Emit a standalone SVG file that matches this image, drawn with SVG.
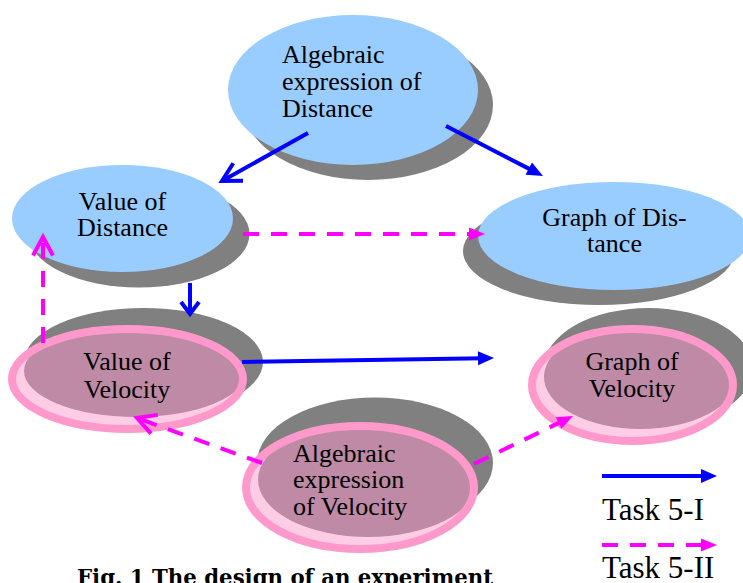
<svg xmlns="http://www.w3.org/2000/svg" width="743" height="583" viewBox="0 0 743 583">
<style>
.shadow{fill:#808080}
.blue{fill:#99CCFF}
.lp{fill:#FFCCE6}
.mauve{fill:#BF8AA5}
.ring{fill:none;stroke:#FF99CC;stroke-width:8}
.lbl{font-family:"Liberation Serif","Times New Roman",serif;font-size:26px;fill:#000}
.mid{text-anchor:middle}
.leg{font-family:"Liberation Serif","Times New Roman",serif;font-size:31px;fill:#000}
.cap{font-family:"DejaVu Serif","Liberation Serif",serif;font-size:23px;font-weight:bold;fill:#000}
.sb{fill:none;stroke:#0000FF;stroke-width:4}
.sm{fill:none;stroke:#FF00FF;stroke-width:4;stroke-dasharray:16 12}
</style>
<defs>
<marker id="triB" markerUnits="userSpaceOnUse" markerWidth="16" markerHeight="14" refX="6" refY="7" orient="auto" overflow="visible">
<path d="M0,0 L16,7 L0,14 Z" fill="#0000FF"/>
</marker>
<marker id="triM" markerUnits="userSpaceOnUse" markerWidth="16" markerHeight="14" refX="6" refY="7" orient="auto" overflow="visible">
<path d="M0,0.5 L16,7 L0,13.5 Z" fill="#FF00FF"/>
</marker>
<marker id="chevB" markerUnits="userSpaceOnUse" markerWidth="22" markerHeight="24" refX="18.5" refY="10" orient="auto" overflow="visible">
<path d="M0,0 L18.5,10 L0,20" fill="none" stroke="#0000FF" stroke-width="4"/>
</marker>
<marker id="chevBs" markerUnits="userSpaceOnUse" markerWidth="16" markerHeight="20" refX="12" refY="9" orient="auto" overflow="visible">
<path d="M0,0 L12,9 L0,18" fill="none" stroke="#0000FF" stroke-width="4"/>
</marker>
<marker id="chevM" markerUnits="userSpaceOnUse" markerWidth="22" markerHeight="24" refX="18.5" refY="10" orient="auto" overflow="visible">
<path d="M0,0 L18.5,10 L0,20" fill="none" stroke="#FF00FF" stroke-width="4"/>
</marker>
<clipPath id="cVV"><ellipse cx="127.5" cy="379" rx="115.5" ry="50"/></clipPath>
<clipPath id="cGV"><ellipse cx="632.5" cy="385" rx="100.5" ry="56"/></clipPath>
<clipPath id="cAV"><ellipse cx="360" cy="487.5" rx="114" ry="61.5"/></clipPath>
</defs>

<g id="node-alg-distance">
<ellipse class="shadow" cx="368" cy="105" rx="125" ry="75"/>
<ellipse class="blue" cx="353" cy="90" rx="125" ry="75"/>
<text class="lbl" x="282" y="63">Algebraic</text>
<text class="lbl" x="282" y="90">expression of</text>
<text class="lbl" x="282" y="117">Distance</text>
</g>

<g id="node-value-distance">
<ellipse class="shadow" cx="139" cy="234" rx="110.5" ry="53.5"/>
<ellipse class="blue" cx="122.5" cy="218.5" rx="110.5" ry="53.5"/>
<text class="lbl mid" x="122.5" y="210">Value of</text>
<text class="lbl mid" x="122.5" y="236">Distance</text>
</g>

<g id="node-graph-distance">
<ellipse class="shadow" cx="599" cy="251" rx="136" ry="54"/>
<ellipse class="blue" cx="614" cy="236" rx="136" ry="54"/>
<text class="lbl mid" x="614.5" y="226">Graph of Dis-</text>
<text class="lbl mid" x="614.5" y="252">tance</text>
</g>

<g id="node-value-velocity">
<ellipse class="shadow" cx="143.5" cy="362" rx="119.5" ry="54"/>
<ellipse class="lp" cx="127.5" cy="379" rx="115.5" ry="50"/>
<ellipse class="mauve" cx="135.5" cy="371" rx="111.5" ry="46" clip-path="url(#cVV)"/>
<ellipse class="ring" cx="127.5" cy="379" rx="115.5" ry="50"/>
<text class="lbl mid" x="127" y="370">Value of</text>
<text class="lbl mid" x="127" y="398">Velocity</text>
</g>

<g id="node-graph-velocity">
<ellipse class="shadow" cx="648.5" cy="368" rx="104.5" ry="60"/>
<ellipse class="lp" cx="632.5" cy="385" rx="100.5" ry="56"/>
<ellipse class="mauve" cx="640.5" cy="377" rx="96.5" ry="52" clip-path="url(#cGV)"/>
<ellipse class="ring" cx="632.5" cy="385" rx="100.5" ry="56"/>
<text class="lbl mid" x="632" y="370">Graph of</text>
<text class="lbl mid" x="632" y="397">Velocity</text>
</g>

<g id="node-alg-velocity">
<ellipse class="shadow" cx="375" cy="463" rx="118" ry="65.5"/>
<ellipse class="lp" cx="360" cy="487.5" rx="114" ry="61.5"/>
<ellipse class="mauve" cx="368" cy="479.5" rx="110" ry="57.5" clip-path="url(#cAV)"/>
<ellipse class="ring" cx="360" cy="487.5" rx="114" ry="61.5"/>
<text class="lbl" x="293" y="462">Algebraic</text>
<text class="lbl" x="293" y="488">expression</text>
<text class="lbl" x="293" y="515">of Velocity</text>
</g>

<g id="connectors">
<path class="sb" d="M308,133 L222,181" marker-end="url(#chevB)"/>
<path class="sb" d="M446,126 L534.1,171.4" marker-end="url(#triB)"/>
<path class="sb" d="M190,283 L190,314" marker-end="url(#chevBs)"/>
<path class="sb" d="M242,362 L484,358.2" marker-end="url(#triB)"/>
<path class="sm" d="M243,234 L475,234" marker-end="url(#triM)"/>
<path class="sm" d="M43,343 L43,237" marker-end="url(#chevM)"/>
<path class="sm" d="M262,463 L137,418" marker-end="url(#chevM)"/>
<path class="sm" d="M474,464 L564,420.4" marker-end="url(#triM)"/>
</g>

<g id="legend">
<path class="sb" d="M602,476 L707,476" marker-end="url(#triB)"/>
<text class="leg" x="602" y="520">Task 5-I</text>
<path class="sm" d="M602,545 L707,545" marker-end="url(#triM)"/>
<text class="leg" x="602" y="578">Task 5-II</text>
</g>

<text class="cap" x="77" y="585" textLength="416" lengthAdjust="spacingAndGlyphs">Fig. 1 The design of an experiment</text>
</svg>
